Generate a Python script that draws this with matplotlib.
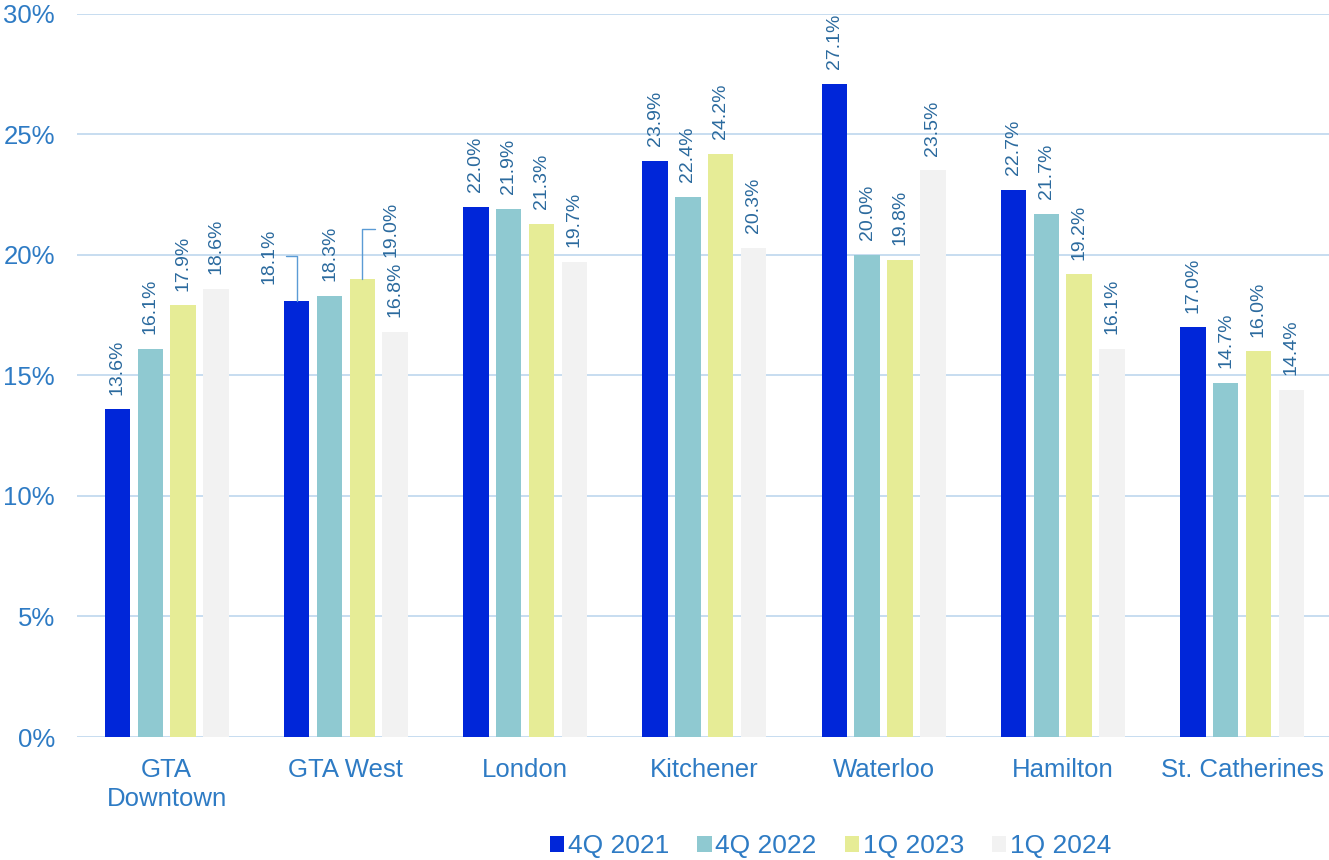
import matplotlib.pyplot as plt
import numpy as np

plt.rcParams['font.family'] = ['Liberation Sans', 'DejaVu Sans']

cities = ['GTA\nDowntown', 'GTA West', 'London', 'Kitchener', 'Waterloo', 'Hamilton', 'St. Catherines']
periods = ['4Q 2021', '4Q 2022', '1Q 2023', '1Q 2024']
q4_2021 = [13.6, 18.1, 22.0, 23.9, 27.1, 22.7, 17.0]
q4_2022 = [16.1, 18.3, 21.9, 22.4, 20.0, 21.7, 14.7]
q1_2023 = [17.9, 19.0, 21.3, 24.2, 19.8, 19.2, 16.0]
q1_2024 = [18.6, 16.8, 19.7, 20.3, 23.5, 16.1, 14.4]

series = [q4_2021, q4_2022, q1_2023, q1_2024]
colors = ['#0026D9', '#8FC9D1', '#E6EC96', '#F2F2F2']
tick_color = '#2E7BC4'
label_color = '#2B6A9E'
grid_color = '#BDD7EE'

fig = plt.figure(figsize=(13.29, 8.6), dpi=100)
ax = fig.add_axes([0.058, 0.143, 0.944, 0.841])

x = np.arange(len(cities))
step = 0.183
width = 0.142

# labels that get pushed aside with a leader line: (series, city) -> offset in points
moved = {(0, 1): (-20, 12), (2, 1): (21, 16)}

for j, (vals, col) in enumerate(zip(series, colors)):
    pos = x + (j - 1.5) * step
    ax.bar(pos, vals, width, color=col, label=periods[j], zorder=3)
    for i, (px, v) in enumerate(zip(pos, vals)):
        txt = f'{v:.1f}%'
        if (j, i) in moved:
            dx, dy = moved[(j, i)]
            relx = 1.0 if dx < 0 else 0.0
            ax.annotate(txt, (px, v), xytext=(dx, dy), textcoords='offset points',
                        rotation=90, ha='center', va='bottom', fontsize=14,
                        color=label_color,
                        arrowprops=dict(arrowstyle='-', color='#5B9BD5', lw=1,
                                        connectionstyle='angle,angleA=0,angleB=90,rad=0',
                                        relpos=(relx, 0.5), shrinkA=4, shrinkB=0))
        else:
            ax.annotate(txt, (px, v), xytext=(0, 10.5), textcoords='offset points',
                        rotation=90, ha='center', va='bottom', fontsize=14,
                        color=label_color)

ax.set_xlim(-0.5, len(cities) - 0.5)
ax.set_ylim(0, 30)
ax.set_yticks(np.arange(0, 31, 5))
ax.set_yticklabels([f'{t}%' for t in range(0, 31, 5)])
ax.set_xticks(x)
ax.set_xticklabels(cities, linespacing=1.25)
ax.tick_params(axis='both', length=0, labelsize=18.5, labelcolor=tick_color)
ax.tick_params(axis='x', pad=15)
ax.tick_params(axis='y', pad=16)
ax.grid(axis='y', color=grid_color, linewidth=1.2, zorder=0)
for s in ax.spines.values():
    s.set_visible(False)

leg = fig.legend(loc='center', bbox_to_anchor=(0.625, 0.016), ncol=4, frameon=False,
                 fontsize=19, handlelength=0.55, handleheight=0.55, handletextpad=0.15,
                 columnspacing=1.05)
for t in leg.get_texts():
    t.set_color(tick_color)

plt.savefig('out.png', dpi=100)
